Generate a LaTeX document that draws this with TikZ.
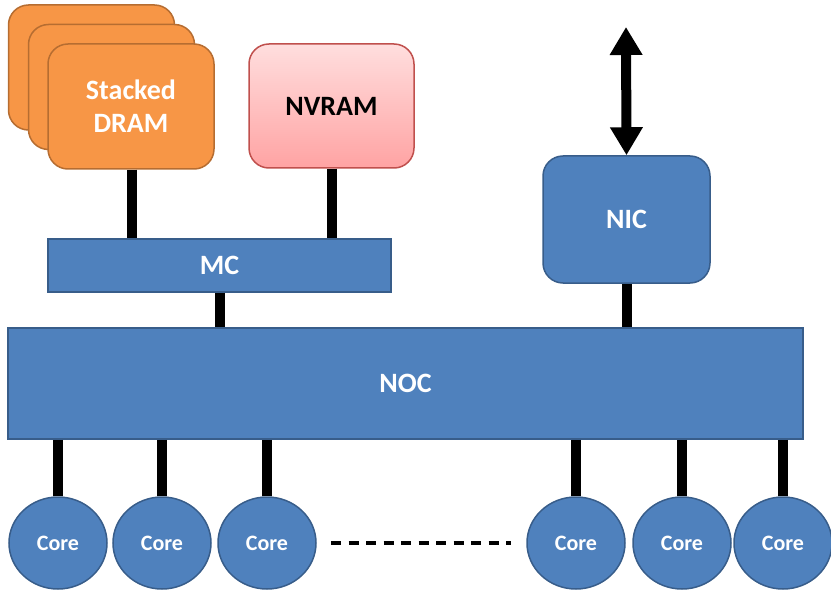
\documentclass[tikz,border=0pt]{standalone}
\usepackage{fontspec}
\setmainfont{Carlito}
\usetikzlibrary{shapes.geometric,arrows.meta}
\definecolor{bfill}{HTML}{4F81BD}
\definecolor{bline}{HTML}{385D8A}
\definecolor{ofill}{HTML}{F79646}
\definecolor{oline}{HTML}{B66D31}
\definecolor{ptop}{HTML}{FFDEDE}
\definecolor{pbot}{HTML}{FFA3A3}
\definecolor{pline}{HTML}{C0504D}
\begin{document}
\begin{tikzpicture}[x=1pt,y=-1pt,
  bigtxt/.style={font=\fontsize{28}{33}\selectfont\bfseries},
  bluebox/.style={draw=bline,fill=bfill,line width=1.5pt,inner sep=0pt,text=white,bigtxt},
  dram/.style={draw=oline,fill=ofill,line width=1.5pt,rounded corners=20pt,inner sep=0pt,
    minimum width=166pt,minimum height=125pt,text=white,bigtxt,align=center},
  corebox/.style={ellipse,draw=bline,fill=bfill,line width=1.5pt,inner sep=0pt,
    minimum width=98pt,minimum height=92pt,text=white,font=\fontsize{22}{26}\selectfont\bfseries},
  conn/.style={line width=10pt,black},
]
\useasboundingbox (0,0) rectangle (831,591);

% stacked DRAM
\node[dram] (dram3) at (91.5,67.5) {};
\node[dram] (dram2) at (111.5,87) {};
\node[dram] (dram1) at (131,106.5) {Stacked\\DRAM};

% NVRAM
\node[draw=pline,line width=1.5pt,top color=ptop,bottom color=pbot,rounded corners=20pt,
  inner sep=0pt,minimum width=165pt,minimum height=124pt,bigtxt,text=black] (nvram) at (331.5,106) {NVRAM};

% MC
\node[bluebox,minimum width=343pt,minimum height=53pt] (mc) at (219.5,265.5) {MC};

% NOC
\node[bluebox,minimum width=795pt,minimum height=111pt] (noc) at (405.5,383.5) {NOC};

% NIC
\node[bluebox,rounded corners=20pt,minimum width=167pt,minimum height=127pt] (nic) at (626.5,219.5) {NIC};

% cores
\node[corebox] (c1) at (58,543) {Core};
\node[corebox] (c2) at (162,543) {Core};
\node[corebox] (c3) at (267,543) {Core};
\node[corebox] (c4) at (576,543) {Core};
\node[corebox] (c5) at (682,543) {Core};
\node[corebox] (c6) at (783,543) {Core};

% connectors
\draw[conn] (132,0 |- dram1.south) -- (132,0 |- mc.north);
\draw[conn] (nvram.south) -- (nvram.south |- mc.north);
\draw[conn] (mc.south) -- (mc.south |- noc.north);
\draw[conn] (nic.south) -- (nic.south |- noc.north);
\foreach \c in {c1,c2,c3,c4,c5,c6}{
  \draw[conn] (\c.north |- noc.south) -- (\c.north);
}

% network arrow
\coordinate (net) at (626,27);
\draw[line width=10pt,{Triangle[length=28pt,width=31pt]}-{Triangle[length=28pt,width=31pt]}] (net) -- (nic.north);

% dots
\coordinate (d1) at (331,543);
\coordinate (d2) at (511,543);
\draw[line width=3.5pt,dash pattern=on 10pt off 7.5pt] (d1) -- (d2);
\end{tikzpicture}
\end{document}
